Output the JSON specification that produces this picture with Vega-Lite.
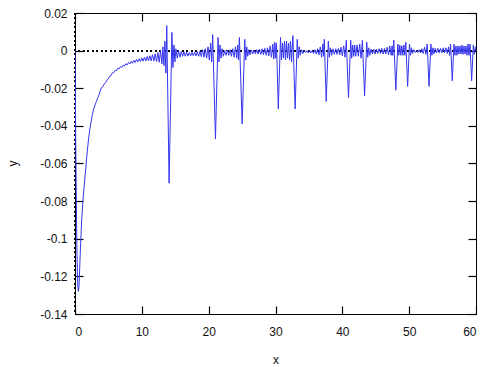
{
  "$schema": "https://vega.github.io/schema/vega-lite/v6.json",
  "width": 401,
  "height": 301,
  "autosize": "none",
  "padding": {"left": 75, "top": 13, "right": 24, "bottom": 53},
  "background": "white",
  "config": {
    "view": {"stroke": "#000", "strokeWidth": 1},
    "axis": {
      "labelFont": "Liberation Sans",
      "labelFontSize": 12,
      "labelColor": "#111",
      "titleFont": "Liberation Sans",
      "titleFontSize": 12,
      "titleFontWeight": "normal",
      "titleColor": "#111",
      "ticks": true,
      "tickColor": "#000",
      "tickWidth": 1.2,
      "tickOpacity": 1,
      "domain": false,
      "grid": false,
      "zindex": 1
    }
  },
  "data": {"values": [
    {"x":0,"y":0},{"x":0.05,"y":-0.02},{"x":0.1,"y":-0.045},{"x":0.2,"y":-0.08},{"x":0.3,"y":-0.108},{"x":0.4,"y":-0.124},{"x":0.5,"y":-0.128},{"x":0.6,"y":-0.125},{"x":0.7,"y":-0.116},{"x":0.8,"y":-0.106},{"x":1.0,"y":-0.09},{"x":1.2,"y":-0.079},{"x":1.4,"y":-0.071},{"x":1.6,"y":-0.063},{"x":1.8,"y":-0.055},{"x":2.0,"y":-0.048},{"x":2.2,"y":-0.042},{"x":2.4,"y":-0.038},{"x":2.6,"y":-0.034},{"x":2.8,"y":-0.031},{"x":3.0,"y":-0.029},{"x":3.2,"y":-0.027},{"x":3.4,"y":-0.025},{"x":3.6,"y":-0.0235},{"x":3.8,"y":-0.021},
    {"x":4.0,"y":-0.0195},{"x":4.2,"y":-0.019},{"x":4.4,"y":-0.0175},{"x":4.6,"y":-0.017},{"x":4.8,"y":-0.0155},{"x":5.0,"y":-0.015},{"x":5.2,"y":-0.0135},{"x":5.4,"y":-0.0132},{"x":5.6,"y":-0.0118},{"x":5.8,"y":-0.0117},{"x":6.0,"y":-0.0105},{"x":6.2,"y":-0.0106},{"x":6.4,"y":-0.0094},{"x":6.6,"y":-0.0097},{"x":6.8,"y":-0.0085},{"x":7.0,"y":-0.0089},{"x":7.2,"y":-0.0077},{"x":7.4,"y":-0.0082},{"x":7.6,"y":-0.007},{"x":7.8,"y":-0.0076},{"x":8.0,"y":-0.0063},{"x":8.2,"y":-0.0071},{"x":8.4,"y":-0.0057},{"x":8.6,"y":-0.0067},{"x":8.8,"y":-0.0052},{"x":9.0,"y":-0.0063},{"x":9.2,"y":-0.0047},{"x":9.4,"y":-0.006},{"x":9.6,"y":-0.0043},{"x":9.8,"y":-0.0058},{"x":10.0,"y":-0.0039},{"x":10.2,"y":-0.0056},{"x":10.4,"y":-0.0035},{"x":10.6,"y":-0.0055},{"x":10.8,"y":-0.0031},{"x":11.0,"y":-0.0054},{"x":11.2,"y":-0.0027},{"x":11.4,"y":-0.0054},{"x":11.6,"y":-0.0022},{"x":11.8,"y":-0.0056},{"x":12.0,"y":-0.0017},{"x":12.2,"y":-0.0058},{"x":12.4,"y":-0.001},{"x":12.6,"y":-0.0062},{"x":12.8,"y":0.0},{"x":13.0,"y":-0.007},{"x":13.15,"y":0.002},{"x":13.3,"y":-0.008},{"x":13.45,"y":0.005},{"x":13.6,"y":-0.012},{"x":13.73,"y":0.0133},{"x":14.08,"y":-0.0705},{"x":14.5,"y":0.0097},{"x":14.65,"y":-0.009},
    {"x":14.8,"y":0.003},{"x":14.95,"y":-0.006},{"x":15.1,"y":0.001},{"x":15.3,"y":-0.004},{"x":15.5,"y":0.0},{"x":15.7,"y":-0.0035},{"x":15.9,"y":-0.0005},{"x":16.1,"y":-0.003},{"x":16.3,"y":-0.0007},{"x":16.5,"y":-0.003},{"x":16.7,"y":-0.0008},{"x":16.9,"y":-0.0029},{"x":17.1,"y":-0.001},{"x":17.3,"y":-0.0028},{"x":17.5,"y":-0.001},{"x":17.7,"y":-0.0027},{"x":17.9,"y":-0.0008},{"x":18.1,"y":-0.0028},{"x":18.3,"y":-0.0006},{"x":18.5,"y":-0.003},{"x":18.7,"y":-0.0002},{"x":18.9,"y":-0.0032},{"x":19.1,"y":0.0005},{"x":19.3,"y":-0.0035},{"x":19.5,"y":0.001},{"x":19.7,"y":-0.004},{"x":19.9,"y":0.002},{"x":20.1,"y":-0.005},{"x":20.3,"y":0.004},{"x":20.45,"y":-0.006},{"x":20.6,"y":0.0085},{"x":21.02,"y":-0.047},{"x":21.4,"y":0.007},{"x":21.55,"y":-0.006},{"x":21.7,"y":0.003},{"x":21.85,"y":-0.004},{"x":22.0,"y":0.001},{"x":22.2,"y":-0.003},{"x":22.4,"y":0.0},{"x":22.6,"y":-0.0025},{"x":22.8,"y":0.0003},{"x":23.0,"y":-0.0025},{"x":23.2,"y":0.0005},{"x":23.4,"y":-0.003},{"x":23.6,"y":0.001},{"x":23.8,"y":-0.0035},{"x":24.0,"y":0.002},{"x":24.2,"y":-0.004},{"x":24.35,"y":0.003},{"x":24.47,"y":-0.005},{"x":24.6,"y":0.007},{"x":25.01,"y":-0.039},{"x":25.4,"y":0.006},{"x":25.55,"y":-0.005},{"x":25.7,"y":0.002},{"x":25.85,"y":-0.003},{"x":26.0,"y":0.0005},{"x":26.2,"y":-0.0022},{"x":26.4,"y":0.0003},{"x":26.6,"y":-0.0018},{"x":26.8,"y":0.0003},{"x":27.0,"y":-0.0018},{"x":27.2,"y":0.0005},{"x":27.4,"y":-0.0018},{"x":27.6,"y":0.0008},{"x":27.8,"y":-0.002},{"x":28.0,"y":0.001},{"x":28.2,"y":-0.0022},{"x":28.4,"y":0.0012},{"x":28.6,"y":-0.0025},{"x":28.8,"y":0.0015},{"x":29.0,"y":-0.0028},{"x":29.2,"y":0.0025},{"x":29.4,"y":-0.0035},{"x":29.6,"y":0.0035},{"x":29.75,"y":-0.0045},{"x":29.9,"y":0.0045},{"x":30.05,"y":-0.004},{"x":30.15,"y":0.004},{"x":30.42,"y":-0.031},{"x":30.75,"y":0.007},{"x":30.9,"y":-0.005},{"x":31.05,"y":0.004},{"x":31.2,"y":-0.004},{"x":31.35,"y":0.005},{"x":31.5,"y":-0.005},{"x":31.65,"y":0.005},{"x":31.8,"y":-0.004},{"x":31.95,"y":0.004},{"x":32.1,"y":-0.005},{"x":32.25,"y":0.005},{"x":32.4,"y":-0.006},{"x":32.6,"y":0.008},{"x":32.94,"y":-0.031},{"x":33.25,"y":0.006},{"x":33.4,"y":-0.004},{"x":33.55,"y":0.002},{"x":33.7,"y":-0.0025},{"x":33.9,"y":0.0005},{"x":34.1,"y":-0.0015},{"x":34.3,"y":0.0},{"x":34.5,"y":-0.001},{"x":34.7,"y":0.0},{"x":34.9,"y":-0.0012},{"x":35.1,"y":0.0002},{"x":35.3,"y":-0.0012},{"x":35.5,"y":0.0},{"x":35.7,"y":-0.0015},{"x":35.9,"y":0.0005},{"x":36.1,"y":-0.0018},{"x":36.3,"y":0.001},{"x":36.5,"y":-0.0022},{"x":36.7,"y":0.002},{"x":36.9,"y":-0.0035},{"x":37.1,"y":0.0035},{"x":37.2,"y":-0.003},{"x":37.3,"y":0.006},{"x":37.59,"y":-0.027},{"x":37.9,"y":0.005},{"x":38.05,"y":-0.0035},{"x":38.2,"y":0.0015},{"x":38.4,"y":-0.0025},{"x":38.6,"y":0.001},{"x":38.8,"y":-0.002},{"x":39.0,"y":0.001},{"x":39.2,"y":-0.002},{"x":39.4,"y":0.0012},{"x":39.6,"y":-0.0022},{"x":39.8,"y":0.0018},{"x":40.0,"y":-0.0028},{"x":40.2,"y":0.0025},{"x":40.4,"y":-0.0035},{"x":40.6,"y":0.0055},{"x":40.92,"y":-0.025},{"x":41.25,"y":0.0055},{"x":41.4,"y":-0.004},{"x":41.55,"y":0.003},{"x":41.7,"y":-0.003},{"x":41.85,"y":0.003},{"x":42.0,"y":-0.003},{"x":42.2,"y":0.003},{"x":42.4,"y":-0.003},{"x":42.6,"y":0.0035},{"x":42.8,"y":-0.004},{"x":43.0,"y":0.0055},{"x":43.33,"y":-0.024},{"x":43.65,"y":0.0045},{"x":43.8,"y":-0.0035},{"x":43.95,"y":0.0015},{"x":44.1,"y":-0.0025},{"x":44.3,"y":0.0008},{"x":44.5,"y":-0.0018},{"x":44.7,"y":0.0008},{"x":44.9,"y":-0.0018},{"x":45.1,"y":0.0008},{"x":45.3,"y":-0.0015},{"x":45.5,"y":0.001},{"x":45.7,"y":-0.0015},{"x":45.9,"y":0.0012},{"x":46.1,"y":-0.0018},{"x":46.3,"y":0.0012},{"x":46.5,"y":-0.0018},{"x":46.7,"y":0.0018},{"x":46.9,"y":-0.0022},{"x":47.1,"y":0.0025},{"x":47.3,"y":-0.0025},{"x":47.45,"y":0.0025},{"x":47.55,"y":-0.0025},{"x":47.7,"y":0.0055},{"x":48.0,"y":-0.021},{"x":48.3,"y":0.0035},{"x":48.45,"y":-0.0025},{"x":48.6,"y":0.003},{"x":48.75,"y":-0.0025},{"x":48.9,"y":0.0025},{"x":49.05,"y":-0.0025},{"x":49.2,"y":0.003},{"x":49.35,"y":-0.0025},{"x":49.5,"y":0.0045},{"x":49.77,"y":-0.019},{"x":50.05,"y":0.0035},{"x":50.2,"y":-0.0025},{"x":50.35,"y":0.0015},{"x":50.5,"y":-0.0015},{"x":50.7,"y":0.0005},{"x":50.9,"y":-0.001},{"x":51.1,"y":0.0},{"x":51.3,"y":-0.001},{"x":51.5,"y":0.0005},{"x":51.7,"y":-0.0012},{"x":51.9,"y":0.001},{"x":52.1,"y":-0.0015},{"x":52.3,"y":0.0018},{"x":52.5,"y":-0.002},{"x":52.7,"y":0.0035},{"x":52.97,"y":-0.019},{"x":53.25,"y":0.0035},{"x":53.4,"y":-0.0025},{"x":53.55,"y":0.0015},{"x":53.7,"y":-0.0018},{"x":53.9,"y":0.0012},{"x":54.1,"y":-0.0012},{"x":54.3,"y":0.0012},{"x":54.5,"y":-0.0012},{"x":54.7,"y":0.0012},{"x":54.9,"y":-0.0012},{"x":55.1,"y":0.0015},{"x":55.3,"y":-0.0012},{"x":55.5,"y":0.0015},{"x":55.7,"y":-0.0015},{"x":55.9,"y":0.002},{"x":56.05,"y":-0.0025},{"x":56.2,"y":0.0035},{"x":56.45,"y":-0.016},{"x":56.7,"y":0.0035},{"x":56.85,"y":-0.0025},{"x":57.0,"y":0.0025},{"x":57.15,"y":-0.0025},{"x":57.3,"y":0.0025},{"x":57.45,"y":-0.0018},{"x":57.6,"y":0.0025},{"x":57.75,"y":-0.0018},{"x":57.9,"y":0.003},{"x":58.05,"y":-0.002},{"x":58.2,"y":0.0025},{"x":58.35,"y":-0.0018},{"x":58.5,"y":0.0025},{"x":58.65,"y":-0.0025},{"x":58.8,"y":0.0035},{"x":58.95,"y":-0.0025},{"x":59.1,"y":0.0035},{"x":59.35,"y":-0.016},{"x":59.6,"y":0.003},{"x":59.75,"y":-0.002},{"x":59.9,"y":0.002},{"x":60.0,"y":0.0}
  ]},
  "resolve": {"axis": {"x": "independent", "y": "independent"}},
  "layer": [
    {
      "mark": {"type": "rule", "color": "#000", "strokeWidth": 1, "strokeDash": [1.5, 3]},
      "encoding": {"y": {"datum": 0, "type": "quantitative", "axis": null}}
    },
    {
      "mark": {"type": "rule", "color": "#000", "strokeWidth": 1, "strokeDash": [1.5, 3]},
      "encoding": {"x": {"datum": 0, "type": "quantitative", "axis": null}}
    },
    {
      "mark": {"type": "line", "color": "#3535ee", "strokeWidth": 1, "clip": true},
      "encoding": {
        "x": {"field": "x", "type": "quantitative",
              "scale": {"domain": [0, 60], "nice": false, "zero": false},
              "axis": {"orient": "bottom", "values": [0, 10, 20, 30, 40, 50, 60], "tickSize": -8, "labelPadding": 20, "labelExpr": "'' + datum.value", "title": "x", "titleY": 49, "titleBaseline": "alphabetic"}},
        "y": {"field": "y", "type": "quantitative",
              "scale": {"domain": [-0.14, 0.02], "nice": false, "zero": false},
              "axis": {"orient": "left", "values": [-0.14, -0.12, -0.1, -0.08, -0.06, -0.04, -0.02, 0, 0.02], "tickSize": -8, "labelPadding": 16, "labelExpr": "'' + datum.value", "title": "y", "titleX": -63, "titleY": 150, "titleAngle": -90, "titleAlign": "center", "titleBaseline": "middle"}}
      }
    },
    {
      "mark": {"type": "line", "opacity": 0},
      "encoding": {
        "x": {"field": "x", "type": "quantitative",
              "axis": {"orient": "top", "values": [0, 10, 20, 30, 40, 50, 60], "tickSize": -8, "labels": false, "title": null}},
        "y": {"field": "y", "type": "quantitative",
              "axis": {"orient": "right", "values": [-0.14, -0.12, -0.1, -0.08, -0.06, -0.04, -0.02, 0, 0.02], "tickSize": -8, "labels": false, "title": null}}
      }
    }
  ]
}
